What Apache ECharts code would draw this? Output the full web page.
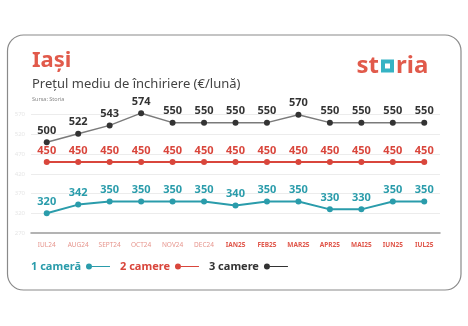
<!DOCTYPE html>
<html>
<head>
<meta charset="utf-8">
<style>
  html, body { margin: 0; padding: 0; background: #ffffff; }
  #chart { width: 468px; height: 326px; }
</style>
<script src="https://cdn.jsdelivr.net/npm/echarts@6/dist/echarts.min.js"></script>
</head>
<body>
<div id="chart"></div>
<script>
// Monthly average rent in Iași, by number of rooms (€/month)
const months = ['IUL24', 'AUG24', 'SEPT24', 'OCT24', 'NOV24', 'DEC24',
                'IAN25', 'FEB25', 'MAR25', 'APR25', 'MAI25', 'IUN25', 'IUL25'];
const oneRoom    = [320, 342, 350, 350, 350, 350, 340, 350, 350, 330, 330, 350, 350];
const twoRooms   = [450, 450, 450, 450, 450, 450, 450, 450, 450, 450, 450, 450, 450];
const threeRooms = [500, 522, 543, 574, 550, 550, 550, 550, 570, 550, 550, 550, 550];
const seriesNames = ['1 cameră', '2 camere', '3 camere'];
// value-axis tick labels and guide lines
const yTicks = [270, 320, 370, 420, 470, 520, 570];

const TEAL = '#2a9cab';
const RED = '#d9463c';
const DARK = '#333333';
const FONT = '"Noto Sans", sans-serif';

const chart = echarts.init(document.getElementById('chart'), null, { renderer: 'canvas' });

function lineSeries(name, data, lineColor, dotColor, width) {
  return {
    name: name,
    type: 'line',
    data: data,
    symbol: 'circle',
    symbolSize: 6,
    clip: false,
    lineStyle: { color: lineColor, width: width },
    itemStyle: { color: dotColor },
    label: {
      show: true,
      position: 'top',
      distance: 3,
      color: dotColor,
      fontFamily: FONT,
      fontWeight: 'bold',
      fontSize: 11
    },
    emphasis: { disabled: true },
    animation: false
  };
}

const legendIcon = 'path://M0,3a3,3 0 1,0 6,0a3,3 0 1,0 -6,0ZM6,2.4H24V3.6H6Z';

const series = [
  lineSeries(seriesNames[0], oneRoom, TEAL, TEAL, 2),
  lineSeries(seriesNames[1], twoRooms, RED, RED, 2),
  lineSeries(seriesNames[2], threeRooms, '#7a7a7a', DARK, 1.5)
];
// light horizontal guides at the labelled values (drawn beneath the lines)
series[0].markLine = {
  silent: true,
  symbol: 'none',
  label: { show: false },
  lineStyle: { color: '#ececec', width: 1, type: 'solid' },
  z: 0,
  data: yTicks.slice(1).map(function (v) { return { yAxis: v }; })
};

chart.setOption({
  backgroundColor: '#ffffff',
  animation: false,
  grid: { left: 31, right: 28, top: 110.8, bottom: 93 },
  xAxis: {
    type: 'category',
    data: months,
    boundaryGap: true,
    axisLine: { lineStyle: { color: '#9a9a9a', width: 1.5 } },
    axisTick: { show: false },
    axisLabel: {
      interval: 0,
      margin: 9,
      fontFamily: FONT,
      fontSize: 6.5,
      formatter: function (v) {
        return v.slice(-2) === '25' ? '{b|' + v + '}' : '{a|' + v + '}';
      },
      rich: {
        a: { color: '#e6948c', fontSize: 6.5, fontFamily: FONT },
        b: { color: '#e0574b', fontSize: 6.5, fontFamily: FONT, fontWeight: 'bold' }
      }
    }
  },
  yAxis: {
    type: 'value',
    min: 270,
    max: 580,
    interval: 10,
    axisLine: { show: false },
    axisTick: { show: false },
    splitLine: { show: false },
    axisLabel: {
      color: '#e6e6e6',
      fontSize: 6,
      fontFamily: FONT,
      margin: 6,
      formatter: function (v) { return yTicks.indexOf(v) >= 0 ? String(v) : ''; }
    }
  },
  legend: {
    left: 31,
    top: 261,
    padding: 0,
    align: 'right',
    itemWidth: 24,
    itemHeight: 6,
    itemGap: 10,
    icon: legendIcon,
    selectedMode: false,
    data: [
      { name: seriesNames[0], textStyle: { color: TEAL } },
      { name: seriesNames[1], textStyle: { color: RED } },
      { name: seriesNames[2], textStyle: { color: DARK } }
    ],
    textStyle: { fontFamily: FONT, fontWeight: 'bold', fontSize: 11 }
  },
  graphic: [
    {
      type: 'rect',
      shape: { x: 7.5, y: 35, width: 453.5, height: 255, r: 16 },
      style: { fill: 'none', stroke: '#8a8a8a', lineWidth: 1.2 },
      silent: true
    },
    {
      type: 'text',
      left: 32, top: 50,
      style: { text: 'Iași', fill: '#e15a4b', font: 'bold 22px ' + FONT }
    },
    {
      type: 'text',
      left: 32, top: 78,
      style: { text: 'Prețul mediu de închiriere (€/lună)', fill: '#444444', font: '13px ' + FONT }
    },
    {
      type: 'text',
      left: 32, top: 96,
      style: { text: 'Sursa: Storia', fill: '#888888', font: '5.5px ' + FONT }
    },
    {
      type: 'text',
      x: 379, y: 78.5,
      style: { text: 'st', fill: '#e15a4b', font: 'bold 24px ' + FONT, align: 'right', verticalAlign: 'bottom' }
    },
    {
      type: 'rect',
      shape: { x: 381, y: 59.5, width: 13, height: 13 },
      style: { fill: '#35b3c4' }
    },
    {
      type: 'rect',
      shape: { x: 385, y: 63.5, width: 5, height: 5 },
      style: { fill: '#ffffff' }
    },
    {
      type: 'text',
      x: 396, y: 78.5,
      style: { text: 'ria', fill: '#e15a4b', font: 'bold 24px ' + FONT, align: 'left', verticalAlign: 'bottom' }
    }
  ],
  series: series
});
</script>
</body>
</html>
